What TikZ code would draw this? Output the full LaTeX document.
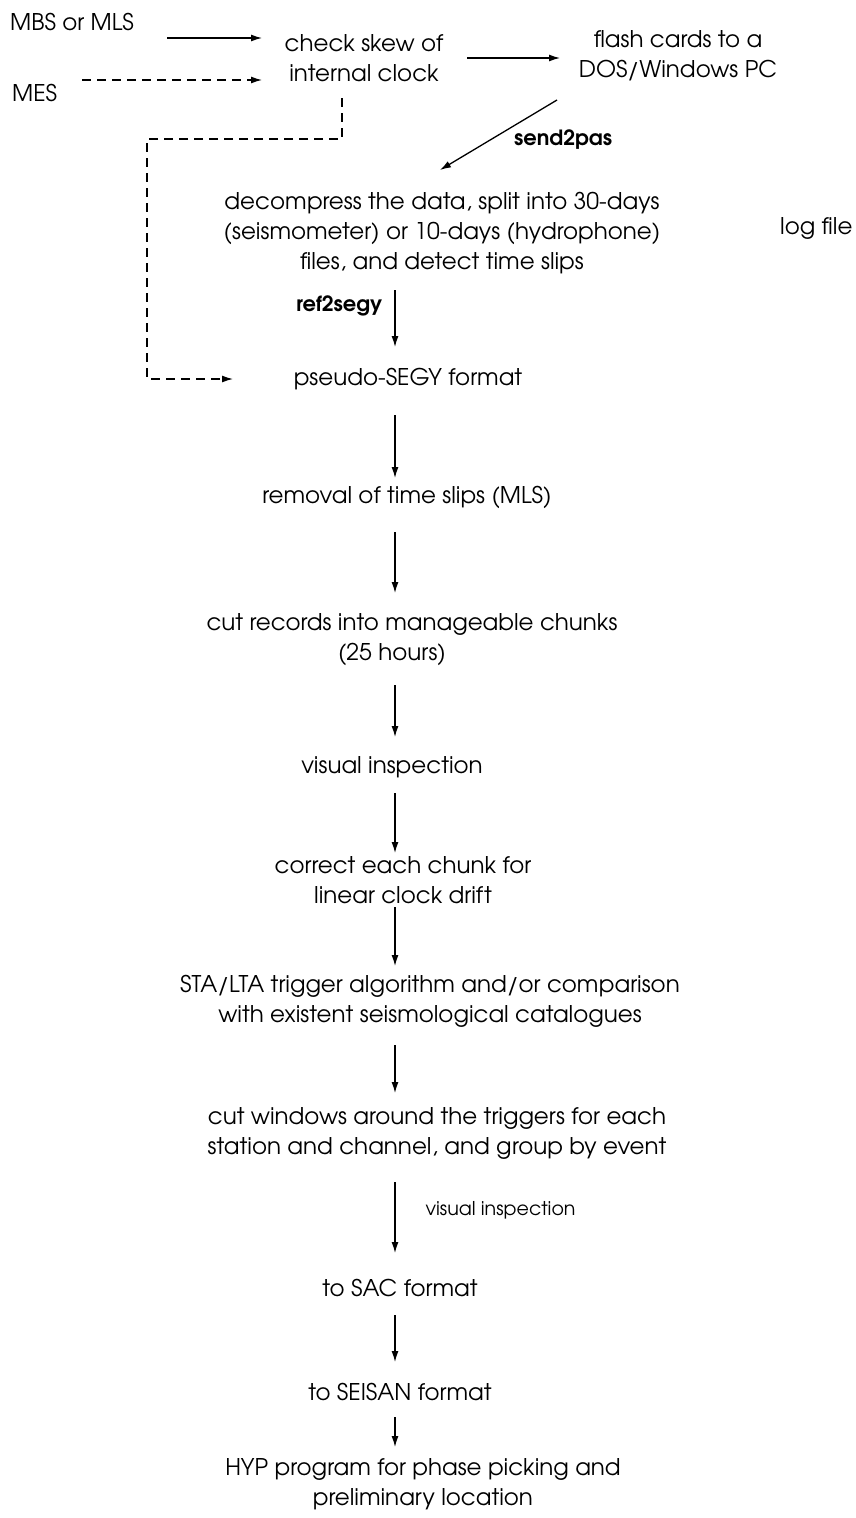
\documentclass[tikz,border=0pt]{standalone}
\usepackage{fontspec}
\setmainfont{TeX Gyre Adventor}
\usetikzlibrary{arrows.meta, positioning}

\begin{document}
\begin{tikzpicture}[x=1pt, y=-1pt,
  txt/.style={inner sep=0pt, align=center, font=\fontsize{23}{30}\selectfont},
  prog/.style={inner sep=0pt, font=\fontsize{21}{24}\selectfont\bfseries},
  note/.style={inner sep=0pt, font=\fontsize{19}{22}\selectfont},
  flow/.style={line width=1.3pt, -{Latex[length=11pt,width=7pt]}},
  dflow/.style={flow, dash pattern=on 9pt off 6pt}]

  % Page frame
  \useasboundingbox (0,0) rectangle (855,1518);

  % Sources and first steps
  \node[txt, anchor=west] (mbs) at (10,22) {MBS or MLS};
  \node[txt, anchor=west] (mes) at (12,93) {MES};
  \node[txt] (check) at (364,58) {check skew of\\internal clock};
  \node[txt] (flash) at (678,56) {flash cards to a\\DOS/Windows PC};
  \node[txt] (decomp) at (442,233) {decompress the data, split into 30-days\\(seismometer) or 10-days (hydrophone)\\files, and detect time slips};
  \node[txt, anchor=west] (logf) at (780,228) {log file};

  % Processing chain
  \node[txt] (segy) at (408,379) {pseudo-SEGY format};
  \node[txt] (removal) at (407,497) {removal of time slips (MLS)};
  \node[txt] (chunks) at (412,640) {cut records into manageable chunks\\(25 hours)\hspace*{40pt}};
  \node[txt] (vis) at (392,767) {visual inspection};
  \node[txt] (drift) at (403,880) {correct each chunk for\\linear clock drift};
  \node[txt] (trig) at (430,1001) {STA/LTA trigger algorithm and/or comparison\\with existent seismological catalogues};
  \node[txt] (win) at (437,1133) {cut windows around the triggers for each\\station and channel, and group by event};
  \node[txt] (sac) at (400,1288) {to SAC format};
  \node[txt] (seisan) at (400,1392) {to SEISAN format};
  \node[txt] (hyp) at (423,1484) {HYP program for phase picking and\\preliminary location};

  % Rows and axis for the connectors
  \coordinate (rowa) at (0,38);
  \coordinate (rowb) at (0,80);
  \coordinate (ax) at (395,0);
  \coordinate (fbx) at (342,0);
  \coordinate (fbc) at (147,139);

  % Top arrows
  \draw[flow, shorten <=157pt, shorten >=102pt] (mbs.west |- rowa) -- (check.center |- rowa);
  \draw[dflow, shorten <=70pt, shorten >=102pt] (mes.west |- rowb) -- (check.center |- rowb);
  \draw[flow, shorten <=103pt, shorten >=118pt] (check.center) -- (flash.center |- check.center);
  \draw[flow] ([shift={(-121,44)}]flash.center) -- ([shift={(-2,-63)}]decomp.center)
    node[prog, midway, anchor=west, xshift=15pt, yshift=-5pt] {send2pas};

  % Feedback for MES
  \draw[dflow, shorten <=40pt, shorten >=175pt] (check.center -| fbx) |- (fbc) |- (segy.center);

  % Down the chain
  \draw[flow, shorten <=57pt, shorten >=32pt] (decomp.center -| ax) -- (segy.center -| ax)
    node[prog, midway, left=12pt] {ref2segy};
  \foreach \a/\b/\s/\e in {segy/removal/36/19, removal/chunks/35/47, chunks/vis/45/30,
      vis/drift/26/27, drift/trig/27/35, trig/win/44/40, sac/seisan/27/30, seisan/hyp/25/37}
    \draw[flow, shorten <=\s pt, shorten >=\e pt] (\a.center -| ax) -- (\b.center -| ax);
  \draw[flow, shorten <=49pt, shorten >=35pt] (win.center -| ax) -- (sac.center -| ax)
    node[note, midway, right=30pt] {visual inspection};

\end{tikzpicture}
\end{document}
